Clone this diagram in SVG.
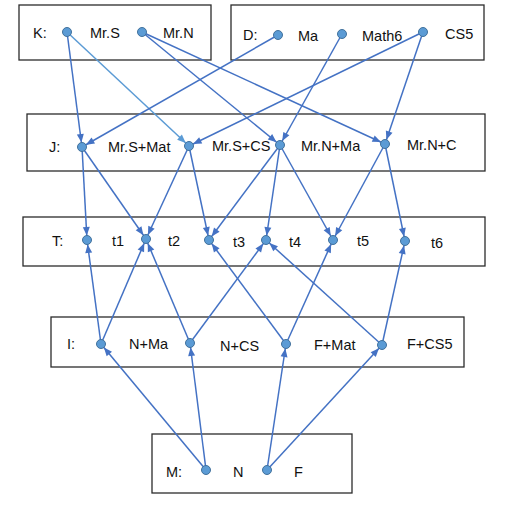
<svg xmlns="http://www.w3.org/2000/svg" width="512" height="507" viewBox="0 0 512 507">
<style>
.box{fill:#fff;stroke:#2b2b2b;stroke-width:1.3}
.lbl{font-family:"Liberation Sans",Arial,sans-serif;font-size:14.5px;fill:#111}
.dot{fill:#5b9bd5;stroke:#41719c;stroke-width:1}
.edge{stroke:#4472c4;stroke-width:1.5;fill:none;marker-end:url(#ah)}
.edge.light{stroke:#5b9bd5;marker-end:url(#ahl)}
</style>
<defs>
<marker id="ah" markerUnits="userSpaceOnUse" markerWidth="14" markerHeight="8" refX="13" refY="3.5" orient="auto" style="overflow:visible">
<path d="M0,0 L8.5,3.5 L0,7 z" fill="#4472c4"/>
</marker>
<marker id="ahl" markerUnits="userSpaceOnUse" markerWidth="14" markerHeight="8" refX="13" refY="3.5" orient="auto" style="overflow:visible">
<path d="M0,0 L8.5,3.5 L0,7 z" fill="#5b9bd5"/>
</marker>
</defs>
<rect width="512" height="507" fill="#fff"/>
<g id="boxes">
<rect id="box-K" class="box" x="19" y="5" width="192" height="55"/>
<rect id="box-D" class="box" x="231" y="5" width="253" height="55"/>
<rect id="box-J" class="box" x="27" y="114" width="458" height="57"/>
<rect id="box-T" class="box" x="23" y="217" width="462" height="49"/>
<rect id="box-I" class="box" x="51" y="317" width="413" height="50"/>
<rect id="box-M" class="box" x="152" y="434" width="200" height="59"/>
</g>
<g id="row-labels" class="lbl">
<text x="33" y="38">K:</text>
<text x="243" y="40">D:</text>
<text x="49" y="152">J:</text>
<text x="52" y="246">T:</text>
<text x="67" y="349">I:</text>
<text x="166" y="477">M:</text>
</g>
<g id="connectors">
<line class="edge" x1="67" y1="32" x2="82" y2="147"/>
<line class="edge light" x1="67" y1="32" x2="189" y2="146"/>
<line class="edge" x1="142" y1="32" x2="280" y2="145"/>
<line class="edge" x1="142" y1="32" x2="385" y2="144"/>
<line class="edge" x1="278" y1="35" x2="82" y2="147"/>
<line class="edge" x1="342" y1="34" x2="280" y2="145"/>
<line class="edge" x1="423" y1="32" x2="189" y2="146"/>
<line class="edge" x1="423" y1="32" x2="385" y2="144"/>
<line class="edge" x1="82" y1="147" x2="87" y2="240"/>
<line class="edge" x1="82" y1="147" x2="146" y2="239"/>
<line class="edge" x1="189" y1="146" x2="146" y2="239"/>
<line class="edge" x1="189" y1="146" x2="209" y2="240"/>
<line class="edge" x1="280" y1="145" x2="209" y2="240"/>
<line class="edge" x1="280" y1="145" x2="266" y2="240"/>
<line class="edge" x1="280" y1="145" x2="333" y2="240"/>
<line class="edge" x1="385" y1="144" x2="333" y2="240"/>
<line class="edge" x1="385" y1="144" x2="405" y2="241"/>
<line class="edge" x1="101" y1="344" x2="87" y2="240"/>
<line class="edge" x1="101" y1="344" x2="146" y2="239"/>
<line class="edge" x1="190" y1="343" x2="146" y2="239"/>
<line class="edge" x1="190" y1="343" x2="266" y2="240"/>
<line class="edge" x1="286" y1="344" x2="209" y2="240"/>
<line class="edge" x1="286" y1="344" x2="333" y2="240"/>
<line class="edge" x1="382" y1="345" x2="266" y2="240"/>
<line class="edge" x1="382" y1="345" x2="405" y2="241"/>
<line class="edge" x1="206" y1="470" x2="101" y2="344"/>
<line class="edge" x1="206" y1="470" x2="190" y2="343"/>
<line class="edge" x1="267" y1="470" x2="286" y2="344"/>
<line class="edge" x1="267" y1="470" x2="382" y2="345"/>
</g>
<g id="k-mrs"><circle class="dot" cx="67" cy="32" r="4.5"/><text class="lbl" x="90" y="38">Mr.S</text></g>
<g id="k-mrn"><circle class="dot" cx="142" cy="32" r="4.5"/><text class="lbl" x="163" y="38">Mr.N</text></g>
<g id="d-ma"><circle class="dot" cx="278" cy="35" r="4.5"/><text class="lbl" x="298" y="41">Ma</text></g>
<g id="d-math6"><circle class="dot" cx="342" cy="34" r="4.5"/><text class="lbl" x="362" y="41">Math6</text></g>
<g id="d-cs5"><circle class="dot" cx="423" cy="32" r="4.5"/><text class="lbl" x="445" y="39">CS5</text></g>
<g id="j-mrs-mat"><circle class="dot" cx="82" cy="147" r="4.5"/><text class="lbl" x="108" y="152">Mr.S+Mat</text></g>
<g id="j-mrs-cs"><circle class="dot" cx="189" cy="146" r="4.5"/><text class="lbl" x="212" y="151">Mr.S+CS</text></g>
<g id="j-mrn-ma"><circle class="dot" cx="280" cy="145" r="4.5"/><text class="lbl" x="301" y="151">Mr.N+Ma</text></g>
<g id="j-mrn-c"><circle class="dot" cx="385" cy="144" r="4.5"/><text class="lbl" x="407" y="150">Mr.N+C</text></g>
<g id="t-t1"><circle class="dot" cx="87" cy="240" r="4.5"/><text class="lbl" x="112" y="246">t1</text></g>
<g id="t-t2"><circle class="dot" cx="146" cy="239" r="4.5"/><text class="lbl" x="168" y="246">t2</text></g>
<g id="t-t3"><circle class="dot" cx="209" cy="240" r="4.5"/><text class="lbl" x="233" y="247">t3</text></g>
<g id="t-t4"><circle class="dot" cx="266" cy="240" r="4.5"/><text class="lbl" x="289" y="247">t4</text></g>
<g id="t-t5"><circle class="dot" cx="333" cy="240" r="4.5"/><text class="lbl" x="357" y="246">t5</text></g>
<g id="t-t6"><circle class="dot" cx="405" cy="241" r="4.5"/><text class="lbl" x="431" y="248">t6</text></g>
<g id="i-n-ma"><circle class="dot" cx="101" cy="344" r="4.5"/><text class="lbl" x="129" y="349">N+Ma</text></g>
<g id="i-n-cs"><circle class="dot" cx="190" cy="343" r="4.5"/><text class="lbl" x="220" y="351">N+CS</text></g>
<g id="i-f-mat"><circle class="dot" cx="286" cy="344" r="4.5"/><text class="lbl" x="314" y="350">F+Mat</text></g>
<g id="i-f-cs5"><circle class="dot" cx="382" cy="345" r="4.5"/><text class="lbl" x="407" y="349">F+CS5</text></g>
<g id="m-n"><circle class="dot" cx="206" cy="470" r="4.5"/><text class="lbl" x="233" y="477">N</text></g>
<g id="m-f"><circle class="dot" cx="267" cy="470" r="4.5"/><text class="lbl" x="294" y="477">F</text></g>
</svg>
